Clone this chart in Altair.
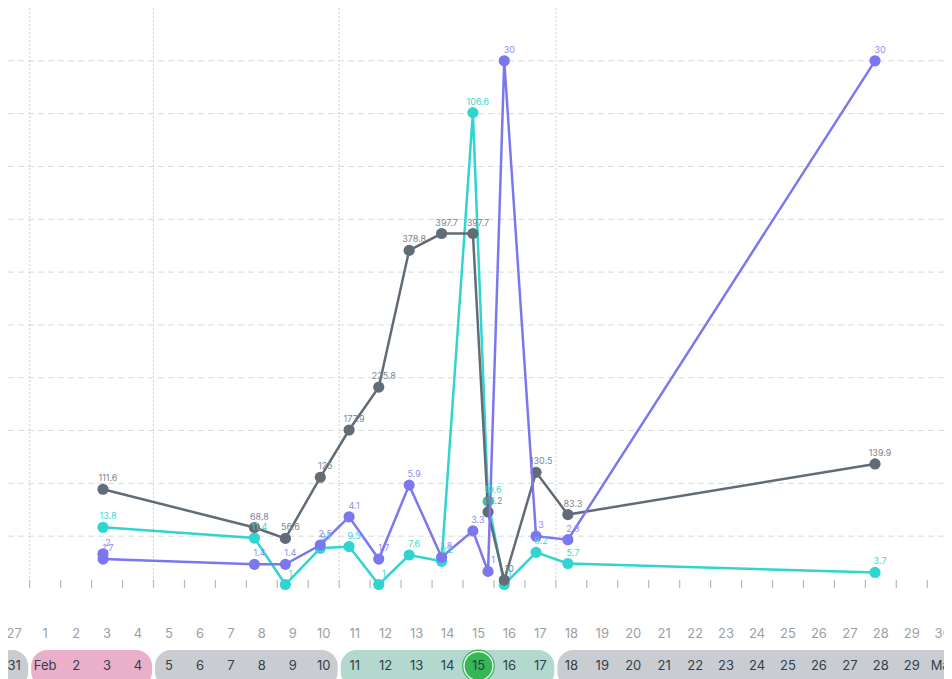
import altair as alt
import pandas as pd

# ---------------- data ----------------
gray_times = ["02-03 08:50", "02-08 06:15", "02-09 06:15", "02-10 09:20", "02-11 07:40",
              "02-12 06:40", "02-13 06:15", "02-14 07:25", "02-15 07:40", "02-15 19:25",
              "02-16 08:00", "02-17 08:40", "02-18 09:20", "02-28 07:30"]
gray_values = [111.6, 68.8, 56.6, 125, 177.9, 225.8, 378.8, 397.7, 397.7, 86.2,
               10, 130.5, 83.3, 139.9]

purple_times = ["02-03 08:50", "02-03 08:55", "02-08 06:15", "02-09 06:15", "02-10 09:20",
                "02-11 07:40", "02-12 06:40", "02-13 06:15", "02-14 07:25", "02-15 07:40",
                "02-15 19:25", "02-16 08:00", "02-17 08:40", "02-18 09:20", "02-28 07:30"]
purple_values = [2, 1.7, 1.4, 1.4, 2.5, 4.1, 1.7, 5.9, 1.8, 3.3, 1, 30, 3, 2.8, 30]

cyan_times = ["02-03 08:50", "02-08 06:15", "02-09 06:15", "02-10 09:20", "02-11 07:40",
              "02-12 06:40", "02-13 06:15", "02-14 07:25", "02-15 07:40", "02-15 19:25",
              "02-16 08:00", "02-17 08:40", "02-18 09:20", "02-28 07:30"]
cyan_values = [13.8, 11.4, 1, 9.1, 9.5, 1, 7.6, 6.2, 106.6, 19.6, 1, 8.2, 5.7, 3.7]

top_labels = ["27", "1", "2", "3", "4", "5", "6", "7", "8", "9", "10", "11", "12", "13", "14",
              "15", "16", "17", "18", "19", "20", "21", "22", "23", "24", "25", "26", "27",
              "28", "29", "30"]
bottom_labels = ["31", "Feb", "2", "3", "4", "5", "6", "7", "8", "9", "10", "11", "12", "13",
                 "14", "15", "16", "17", "18", "19", "20", "21", "22", "23", "24", "25", "26",
                 "27", "28", "29", "Mar"]
label_dates = ["01-31"] + [f"02-{d:02d}" for d in range(1, 30)] + ["03-01"]

pill_starts = ["01-30", "02-01", "02-05", "02-11", "02-18"]
pill_ends = ["02-01", "02-05", "02-11", "02-18", "03-04"]
pill_colors = ["#c9cdd1", "#eab0c9", "#c9cdd1", "#b3d9ce", "#c9cdd1"]

week_lines = ["02-01", "02-05", "02-11", "02-18"]
today = "02-15"
grid_values = [3, 6, 9, 12, 15, 18, 21, 24, 27, 30]

BASE = pd.Timestamp("2024-02-01")


def tday(s):
    return (pd.Timestamp("2024-" + s) - BASE) / pd.Timedelta(days=1)


def series_df(times, values):
    return pd.DataFrame({
        "t": [tday(s) for s in times],
        "v": values,
        "lab": [f"{v:g}" for v in values],
    })


gray_df = series_df(gray_times, gray_values)
purple_df = series_df(purple_times, purple_values)
cyan_df = series_df(cyan_times, cyan_values)

row_df = pd.DataFrame({
    "t": [tday(s) + 0.5 for s in label_dates],
    "top": top_labels,
    "bottom": bottom_labels,
})
pill_df = pd.DataFrame({
    "s": [tday(s) for s in pill_starts],
    "e": [tday(s) for s in pill_ends],
    "c": pill_colors,
})
week_df = pd.DataFrame({"t": [tday(s) for s in week_lines]})
tick_df = pd.DataFrame({"t": [tday(s) for s in label_dates[1:]]})
today_df = pd.DataFrame({"t": [tday(today) + 0.5]})
grid_df = pd.DataFrame({"v": grid_values})

# ---------------- scales ----------------
W, H = 936, 671
PX_PER_DAY = 30.95
T0 = -21.7 / PX_PER_DAY
T1 = T0 + W / PX_PER_DAY
xs = alt.Scale(domain=[T0, T1], nice=False, zero=False)
X = alt.X("t:Q", scale=xs, axis=None)

PLOT_BOTTOM = 581
yP = alt.Scale(domain=[0, 33], range=[PLOT_BOTTOM, 0], nice=False, zero=False)
yG = alt.Scale(domain=[0, 650], range=[PLOT_BOTTOM, 0], nice=False, zero=False)
yC = alt.Scale(domain=[0, 130], range=[PLOT_BOTTOM, 0], nice=False, zero=False)

GRAY, PURPLE, CYAN = "#626c77", "#7b78ef", "#30d5d0"
GRAY_L, PURPLE_L, CYAN_L = "#7d8690", "#8f8cf3", "#3fd8d3"
FONT = "Inter"

hgrid = alt.Chart(grid_df).mark_rule(color="#dadada", strokeDash=[6, 4], strokeWidth=1).encode(
    y=alt.Y("v:Q", scale=yP, axis=None), x=alt.value(0), x2=alt.value(W))
vgrid = alt.Chart(week_df).mark_rule(color="#d2d2d2", strokeDash=[2, 2], strokeWidth=1).encode(
    x=X, y=alt.value(0), y2=alt.value(571))
ticks = alt.Chart(tick_df).mark_rule(color="#b8b8b8", strokeWidth=1.2).encode(
    x=X, y=alt.value(572), y2=alt.value(580))


def series_layers(df, ys, color):
    line = alt.Chart(df).mark_line(color=color, strokeWidth=2.5).encode(
        x=X, y=alt.Y("v:Q", scale=ys, axis=None), order="t:Q")
    pts = alt.Chart(df).mark_circle(color=color, opacity=1, size=125).encode(
        x=X, y=alt.Y("v:Q", scale=ys, axis=None))
    return [line, pts]


def label_layer(df, ys, color):
    return alt.Chart(df).mark_text(color=color, fontSize=9, font=FONT, dx=5, dy=-11).encode(
        x=X, y=alt.Y("v:Q", scale=ys, axis=None), text="lab:N")


pills = alt.Chart(pill_df).mark_bar(cornerRadius=16, xOffset=1.5, x2Offset=-1.5).encode(
    x=alt.X("s:Q", scale=xs, axis=None), x2="e:Q",
    y=alt.value(642), y2=alt.value(680),
    color=alt.Color("c:N", scale=None))
today_outer = alt.Chart(today_df).mark_circle(color="#3dba5c", opacity=1, size=1080).encode(
    x=X, y=alt.value(658))
today_ring = alt.Chart(today_df).mark_circle(color="#ffffff", opacity=1, size=910).encode(
    x=X, y=alt.value(658))
today_inner = alt.Chart(today_df).mark_circle(color="#36b757", opacity=1, size=770).encode(
    x=X, y=alt.value(658))
top_row = alt.Chart(row_df).mark_text(color="#9aa0a6", fontSize=13, font=FONT).encode(
    x=X, y=alt.value(626), text="top:N")
bottom_row = alt.Chart(row_df).mark_text(color="#34404a", fontSize=13, font=FONT).encode(
    x=X, y=alt.value(658), text="bottom:N")

layers = [hgrid, vgrid, ticks]
layers += series_layers(cyan_df, yC, CYAN)
layers += series_layers(gray_df, yG, GRAY)
layers += series_layers(purple_df, yP, PURPLE)
layers += [label_layer(cyan_df, yC, CYAN_L), label_layer(gray_df, yG, GRAY_L),
           label_layer(purple_df, yP, PURPLE_L)]
layers += [pills, today_outer, today_ring, today_inner, top_row, bottom_row]

chart = alt.layer(*layers).resolve_scale(y="independent").properties(
    width=W, height=H, autosize=alt.AutoSizeParams(type="none"), padding=0,
    background="#ffffff",
).configure_view(stroke=None)

chart.save("out.html", embed_options={"renderer": "svg", "actions": False})
